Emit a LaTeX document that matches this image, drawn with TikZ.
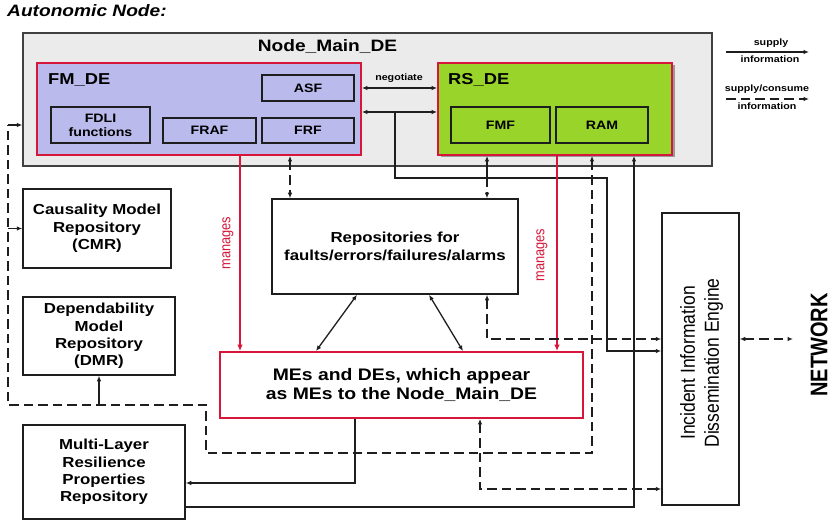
\documentclass[tikz,border=0pt]{standalone}
\usepackage{fontspec}
\usepackage{graphicx}
\setmainfont{Liberation Sans}[FakeStretch=1.16]
\newfontfamily\plainsf{Liberation Sans}
\usetikzlibrary{arrows.meta}

\definecolor{mainfill}{RGB}{235,235,235}
\definecolor{lav}{RGB}{186,186,236}
\definecolor{lime}{RGB}{153,212,42}
\definecolor{crim}{RGB}{214,22,58}
\definecolor{ink}{RGB}{30,30,30}

\tikzset{
  box/.style={draw=ink, line width=1.5pt, fill=white, inner sep=0pt, align=center,
    font=\fontsize{14.5}{17.4}\selectfont\bfseries},
  subbox/.style={draw=ink, line width=1.5pt, inner sep=0pt, align=center,
    font=\fontsize{12.2}{14}\selectfont\bfseries},
  debox/.style={draw=crim, line width=1.8pt, inner sep=0pt},
  wire/.style={draw=ink, line width=1.3pt},
  dashwire/.style={wire, dash pattern=on 9.5pt off 5pt},
  mgr/.style={draw=crim, line width=2pt, -{Latex[length=6.5pt,width=5.5pt]}},
  smalltext/.style={font=\fontsize{9.2}{11}\selectfont\bfseries, inner sep=0pt},
  titletext/.style={inner sep=0pt, font=\fontsize{15.8}{18}\selectfont\bfseries},
}

\begin{document}
\begin{tikzpicture}[x=1pt, y=-1pt, >={Latex[length=5.5pt,width=4.5pt]}]
\useasboundingbox (0,0) rectangle (832,521);

% heading
\node[anchor=base west, inner sep=0pt, font=\fontsize{16.5}{19}\selectfont\bfseries\itshape]
  (heading) at (7,16.7) {Autonomic Node:};

% Node_Main_DE container
\node[draw=ink!85, line width=1.3pt, fill=mainfill, minimum width=689pt, minimum height=133pt,
  inner sep=0pt] (main) at (367.5,99.5) {};
\node[anchor=base, inner sep=0pt, font=\fontsize{16.5}{19}\selectfont\bfseries]
  (maintitle) at (327.5,52) {Node\_Main\_DE};

% FM_DE and its functions
\node[debox, fill=lav, minimum width=324pt, minimum height=92pt] (fm) at (199,109) {};
\node[titletext, anchor=base west] (fmtitle) at (48,84.5) {FM\_DE};
\node[subbox, fill=lav, minimum width=92pt, minimum height=26pt] (asf) at (308,88) {ASF};
\node[subbox, fill=lav, minimum width=99pt, minimum height=36pt] (fdli) at (100.5,125) {FDLI\\functions};
\node[subbox, fill=lav, minimum width=93pt, minimum height=25pt] (fraf) at (209.5,130.5) {FRAF};
\node[subbox, fill=lav, minimum width=92pt, minimum height=25pt] (frf) at (308,130.5) {FRF};

% RS_DE and its functions
\node[fill=black!40, minimum width=234pt, minimum height=92pt, inner sep=0pt] (rsshadow) at (557.5,111.5) {};
\node[debox, fill=lime, minimum width=234pt, minimum height=92pt] (rs) at (555,109) {};
\node[titletext, anchor=base west] (rstitle) at (448,84.5) {RS\_DE};
\node[subbox, fill=lime, minimum width=99pt, minimum height=36pt] (fmf) at (500.5,125) {FMF};
\node[subbox, fill=lime, minimum width=92pt, minimum height=36pt] (ram) at (602,125) {RAM};

\node[smalltext] (neg) at (399,78) {negotiate};

% repositories and managed elements
\node[box, minimum width=246pt, minimum height=95pt] (repo) at (395,246.5)
  {Repositories for\\faults/errors/failures/alarms};
\node[box, draw=crim, line width=1.8pt, minimum width=363pt, minimum height=66pt,
  font=\fontsize{16.7}{19}\selectfont\bfseries] (mes) at (401.5,385)
  {MEs and DEs, which appear\\as MEs to the Node\_Main\_DE};
\node[box, minimum width=148pt, minimum height=79pt] (cmr) at (97,228.5)
  {Causality Model\\Repository\\(CMR)};
\node[box, minimum width=152pt, minimum height=78pt] (dmr) at (99,336)
  {Dependability\\Model\\Repository\\(DMR)};
\node[box, minimum width=162pt, minimum height=94pt] (mlr) at (104,472)
  {Multi-Layer\\Resilience\\Properties\\Repository};
\node[box, minimum width=77pt, minimum height=292pt] (iide) at (700.5,359) {};
\node[rotate=90, inner sep=0pt, font=\plainsf\fontsize{17.5}{20.7}\selectfont] (iidetext) at (702,363)
  {\scalebox{1}[1.16]{\begin{tabular}{@{}c@{}}Incident Information\\Dissemination Engine\end{tabular}}};
\node[rotate=90, inner sep=0pt, font=\plainsf\fontsize{20}{24}\selectfont\bfseries] (net) at (819,345)
  {\scalebox{1}[1.2]{NETWORK}};

% manages labels
\node[rotate=90, inner sep=0pt, text=crim, font=\plainsf\fontsize{12.8}{15}\selectfont] (mg1) at (228,243)
  {\scalebox{1}[1.16]{manages}};
\node[rotate=90, inner sep=0pt, text=crim, font=\plainsf\fontsize{12.8}{15}\selectfont] (mg2) at (542,255)
  {\scalebox{1}[1.16]{manages}};

% junction points
\coordinate (tap) at (395,112);
\coordinate (fmftap) at (487,178);
\coordinate (lt) at (8,125);
\coordinate (cmrtap) at (8,228.5);
\coordinate (dmrtap) at (99,405);
\coordinate (netport) at (793,339);

% FM_DE <-> RS_DE
\draw[wire,<->] (asf.east -| fm.east) -- (asf.east -| rs.west);
\draw[wire,<->] ([yshift=-3pt]fm.east) -- ([yshift=-3pt]rs.west);
\draw[wire,->] (tap) |- (607,178) |- ([yshift=8pt]iide.west);
\draw[wire,->] (fmftap) -- (fmftap |- rs.south);
\draw[dashwire,->] (fmftap) -- (fmftap |- repo.north);
\draw[dashwire,<->] ([xshift=91pt]fm.south) -- ([xshift=-105pt]repo.north);

% manages
\draw[mgr] ([xshift=41pt]fm.south) -- ([xshift=-161.5pt]mes.north);
\draw[mgr] ([xshift=2pt]rs.south) -- ([xshift=155.5pt]mes.north);

% repositories <-> MEs
\draw[wire,<->] ([xshift=-38pt]repo.south) -- ([xshift=-85.5pt]mes.north);
\draw[wire,<->] ([xshift=34pt]repo.south) -- ([xshift=61.5pt]mes.north);

% dashed loop from RS_DE round to the models
\draw[dashwire,<-] ([xshift=37pt]rs.south) |- (206,453) |- (8,405) -- (lt);
\draw[wire,->] (lt) -- (lt -| main.west);
\draw[wire,->] (cmrtap) -- (cmr.west);
\draw[wire,->] (dmrtap) -- (dmr.south);

% resilience properties
\draw[wire,->] ([yshift=-35pt]mlr.east) -| ([xshift=79pt]rs.south);
\draw[wire,->] ([xshift=-46.5pt]mes.south) |- ([yshift=-11pt]mlr.east);

% links to the dissemination engine
\draw[dashwire,<->] ([xshift=78.5pt]mes.south) |- ([yshift=-130pt]iide.west);
\draw[dashwire,<->] ([xshift=92pt]repo.south) |- ([yshift=20pt]iide.west);
\draw[dashwire,<->] ([yshift=20pt]iide.east) -- (netport);

% legend
\coordinate (lg1a) at (726,52);
\coordinate (lg1b) at (809,52);
\coordinate (lg2a) at (726,99);
\coordinate (lg2b) at (809,99);
\node[smalltext] (lg1top) at (771,43) {supply};
\node[smalltext] (lg1bot) at (770,59.5) {information};
\draw[wire,->] (lg1a) -- (lg1b);
\node[smalltext] (lg2top) at (767,89) {supply/consume};
\node[smalltext] (lg2bot) at (767,106) {information};
\draw[dashwire,->] (lg2a) -- (lg2b);
\end{tikzpicture}
\end{document}
